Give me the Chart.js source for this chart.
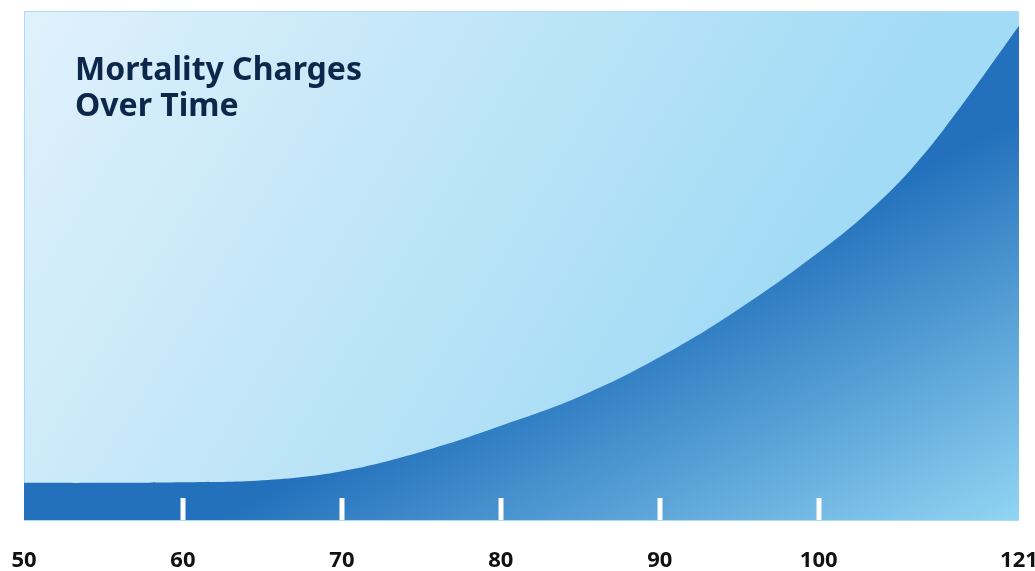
<!DOCTYPE html>
<html>
<head>
<meta charset="utf-8">
<script src="https://cdn.jsdelivr.net/npm/chart.js@4"></script>
<style>
    html, body { margin: 0; padding: 0; background: #ffffff; }
    #wrap { position: relative; width: 1035px; height: 571px; }
</style>
</head>
<body>
<div id="wrap"><canvas id="chart"></canvas></div>
<script>
// ages along the axis and the charge level (0 = axis, 100 = top of plot)
const ages = [50, 55, 60, 65, 70, 75, 80, 85, 90, 95, 100, 105, 110, 115, 121]
const charges = [7.3, 7.3, 7.4, 7.8, 9.6, 13.4, 18.5, 24.3, 32.0, 41.5, 52.6, 60.2, 69.6, 81.5, 97.1]
const tickAges = [50, 60, 70, 80, 90, 100, 121]
const markAges = [60, 70, 80, 90, 100]
const titleLines = ['Mortality Charges', 'Over Time']

// the last stretch of the axis (100 -> 121) is drawn compressed
const axisPos = (age) => (age <= 100 ? age : 100 + (age - 100) * 0.6)
const posToAge = (pos) => (pos <= 100 ? pos : Math.round(100 + (pos - 100) / 0.6))

const backgroundPlugin = {
    id: 'plotBackground',
    beforeDatasetsDraw(chart) {
        const { ctx, chartArea: a } = chart
        const g = ctx.createLinearGradient(a.left, a.top, a.left + 676, a.top + 409)
        g.addColorStop(0, '#e0f1fb')
        g.addColorStop(1, '#a2dbf5')
        ctx.save()
        ctx.fillStyle = g
        ctx.fillRect(a.left, a.top, a.right - a.left, a.bottom - a.top)
        ctx.strokeStyle = '#aadcf3'
        ctx.lineWidth = 1
        ctx.strokeRect(a.left + 0.5, a.top + 0.5, a.right - a.left - 1, a.bottom - a.top)
        ctx.restore()
    },
}

const marksPlugin = {
    id: 'innerMarks',
    afterDatasetsDraw(chart) {
        const { ctx, chartArea: a, scales } = chart
        ctx.save()
        ctx.strokeStyle = '#ffffff'
        ctx.lineWidth = 5
        markAges.forEach((age) => {
            const x = Math.round(scales.x.getPixelForValue(axisPos(age)))
            ctx.beginPath()
            ctx.moveTo(x, a.bottom)
            ctx.lineTo(x, a.bottom - 22)
            ctx.stroke()
        })
        ctx.restore()
    },
}

const titlePlugin = {
    id: 'innerTitle',
    afterDraw(chart) {
        const { ctx, chartArea: a } = chart
        ctx.save()
        ctx.fillStyle = '#0c2749'
        ctx.font = 'bold 32px "Noto Sans", sans-serif'
        ctx.textBaseline = 'alphabetic'
        ctx.textAlign = 'left'
        titleLines.forEach((line, i) => {
            ctx.fillText(line, a.left + 51, a.top + 69 + i * 36)
        })
        ctx.restore()
    },
}

function areaGradient(context) {
    const { ctx, chartArea: a } = context.chart
    if (!a) {
        return '#2371bc'
    }
    const g = ctx.createLinearGradient(a.right - 159, a.bottom - 321, a.right, a.bottom)
    g.addColorStop(0, '#2371bc')
    g.addColorStop(1, '#92d5f3')
    return g
}

new Chart(document.getElementById('chart'), {
    type: 'line',
    data: {
        datasets: [
            {
                data: ages.map((age, i) => ({ x: axisPos(age), y: charges[i] })),
                fill: 'origin',
                backgroundColor: areaGradient,
                borderWidth: 0,
                pointRadius: 0,
                tension: 0.4,
            },
        ],
    },
    options: {
        responsive: true,
        maintainAspectRatio: false,
        animation: false,
        layout: { padding: { left: 24, right: 16, top: 11, bottom: 0 } },
        plugins: {
            legend: { display: false },
            tooltip: { enabled: false },
        },
        scales: {
            x: {
                type: 'linear',
                min: axisPos(tickAges[0]),
                max: axisPos(tickAges[tickAges.length - 1]),
                grid: { display: false, drawTicks: false },
                border: { display: false },
                afterBuildTicks(scale) {
                    scale.ticks = tickAges.map((age) => ({ value: axisPos(age) }))
                },
                afterFit(scale) {
                    scale.height = 51
                    scale.paddingLeft = 0
                    scale.paddingRight = 0
                },
                ticks: {
                    autoSkip: false,
                    maxRotation: 0,
                    padding: 28,
                    color: '#111111',
                    font: { family: '"Noto Sans", sans-serif', size: 22, weight: 'bold' },
                    callback: (value) => String(posToAge(value)),
                },
            },
            y: {
                display: false,
                min: 0,
                max: 100,
            },
        },
    },
    plugins: [backgroundPlugin, marksPlugin, titlePlugin],
})
</script>
</body>
</html>
